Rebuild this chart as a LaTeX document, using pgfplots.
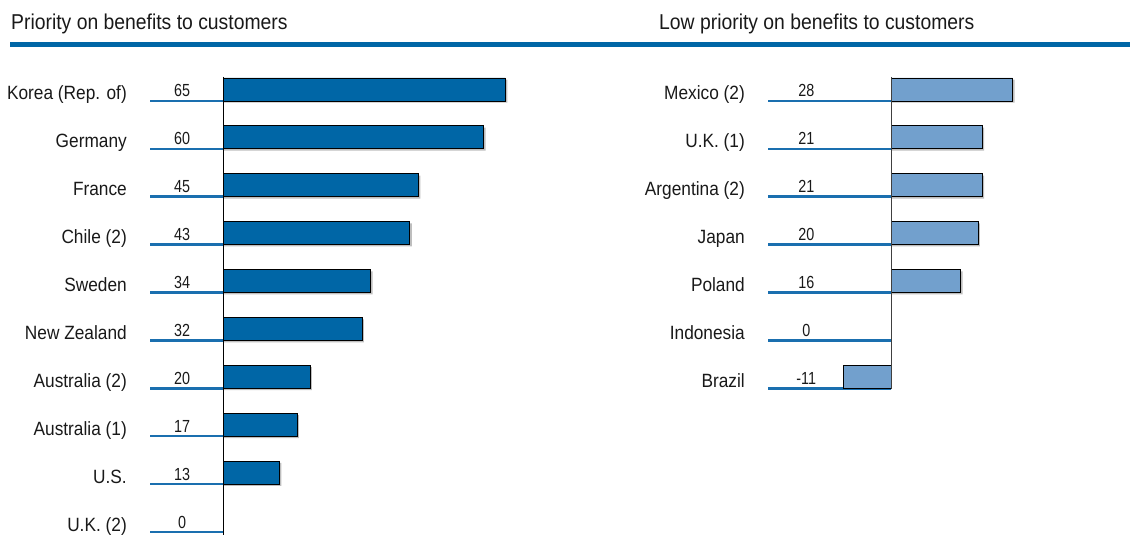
\documentclass[border=0pt]{standalone}
\usepackage{fontspec}
\setmainfont{Liberation Sans}[FakeStretch=0.9]
\newfontfamily\valfont{Liberation Sans}[FakeStretch=0.82]
\usepackage{pgfplots}
\pgfplotsset{compat=1.18}
\definecolor{darkbar}{RGB}{0,102,166}
\definecolor{lightbar}{RGB}{114,160,205}
\definecolor{uline}{RGB}{26,111,175}
\definecolor{txt}{RGB}{25,25,25}
\definecolor{shadow}{RGB}{190,190,190}
\begin{document}
\begin{tikzpicture}
\useasboundingbox (0,0) rectangle (1130pt,535pt);
\node[anchor=base west, inner sep=0pt, text=txt, font=\fontsize{21.5}{24}\selectfont] at (11pt,505pt) {Priority on benefits to customers};
\node[anchor=base west, inner sep=0pt, text=txt, font=\fontsize{21.5}{24}\selectfont] at (659pt,505pt) {Low priority on benefits to customers};
\draw[line width=5pt, darkbar] (10pt,490pt) -- (1130pt,490pt);
\pgfplotsset{
  panel/.style={
    scale only axis, clip=false,
    y dir=reverse, ymin=-0.5, ymax=9.5, height=479pt,
    axis line style={draw=none}, major tick length=0pt,
    xtick=\empty, ytick={0,...,9},
    yticklabel style={anchor=base east, inner sep=0pt, yshift=-10.5pt, text=txt, font=\fontsize{19.2}{21}\selectfont},
  },
  vals/.style={draw=none, nodes near coords, point meta=explicit symbolic,
    every node near coord/.append style={anchor=base, inner sep=0pt, yshift=4pt, text=txt, font=\valfont\fontsize{17.5}{19}\selectfont}},
  shad/.style={xbar, bar width=23pt, bar shift=-1.8pt, fill=shadow, draw=none, forget plot},
}
% Left panel
\begin{axis}[panel, at={(223pt,-9.5pt)}, anchor=south west,
  xmin=0, xmax=65, width=282.4pt,
  yticklabels={Korea (Rep. of),Germany,France,Chile (2),Sweden,New Zealand,Australia (2),Australia (1),U.S.,U.K. (2)},
  yticklabel style={xshift=-96pt}]
\addplot[xcomb, uline, line width=2.5pt] coordinates {
(-16.8,0.24) (-16.8,1.24) (-16.8,2.24) (-16.8,3.24) (-16.8,4.24)
(-16.8,5.24) (-16.8,6.24) (-16.8,7.24) (-16.8,8.24) (-16.8,9.24)};
\addplot[shad] coordinates {
(65.45,0) (60.45,1) (45.45,2) (43.45,3) (34.45,4) (32.45,5) (20.45,6) (17.45,7) (13.45,8)};
\addplot[xbar, bar width=23pt, bar shift=0pt, fill=darkbar, draw=black, line width=0.7pt] coordinates {
(65,0) (60,1) (45,2) (43,3) (34,4) (32,5) (20,6) (17,7) (13,8) (0,9)};
\addplot[black, line width=1pt] coordinates {(0,-0.26) (0,9.4)};
\addplot[vals] coordinates {
(-9.4,0.24) [65] (-9.4,1.24) [60] (-9.4,2.24) [45] (-9.4,3.24) [43] (-9.4,4.24) [34]
(-9.4,5.24) [32] (-9.4,6.24) [20] (-9.4,7.24) [17] (-9.4,8.24) [13] (-9.4,9.24) [0]};
\end{axis}
% Right panel
\begin{axis}[panel, at={(843.2pt,-9.5pt)}, anchor=south west,
  xmin=-11, xmax=28, width=169.5pt, ytick={0,...,6},
  yticklabels={Mexico (2),U.K. (1),Argentina (2),Japan,Poland,Indonesia,Brazil},
  yticklabel style={xshift=-98.2pt}]
\addplot[xcomb, uline, line width=2.5pt] coordinates {
(-28.3,0.24) (-28.3,1.24) (-28.3,2.24) (-28.3,3.24) (-28.3,4.24) (-28.3,5.24) (-28.3,6.24)};
\addplot[shad] coordinates {
(28.45,0) (21.45,1) (21.45,2) (20.45,3) (16.45,4)};
\addplot[xbar, bar width=23pt, bar shift=0pt, fill=lightbar, draw=black, line width=0.7pt] coordinates {
(28,0) (21,1) (21,2) (20,3) (16,4) (0,5) (-11,6)};
\addplot[black!75, line width=1pt] coordinates {(0,-0.26) (0,6.26)};
\addplot[vals] coordinates {
(-19.5,0.24) [28] (-19.5,1.24) [21] (-19.5,2.24) [21] (-19.5,3.24) [20]
(-19.5,4.24) [16] (-19.5,5.24) [0] (-19.5,6.24) [-11]};
\end{axis}
\end{tikzpicture}
\end{document}
